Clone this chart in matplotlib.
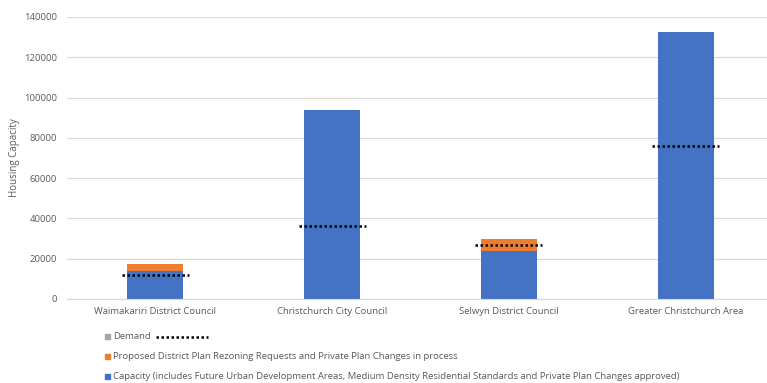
import numpy as np
import matplotlib.pyplot as plt
from matplotlib.patches import Rectangle
from matplotlib.lines import Line2D

# --- data ---
categories = ['Waimakariri District Council', 'Christchurch City Council',
              'Selwyn District Council', 'Greater Christchurch Area']
capacity = [14000, 94000, 24000, 132700]
proposed = [3200, 0, 6000, 0]
demand = [11800, 36300, 27000, 76100]

legend_labels = ['Demand',
                 'Proposed District Plan Rezoning Requests and Private Plan Changes in process',
                 'Capacity (includes Future Urban Development Areas, Medium Density Residential Standards and Private Plan Changes approved)']

BLUE = '#4472C4'
ORANGE = '#ED7D31'
GRAY = '#A5A5A5'
TXT = '#595959'

plt.rcParams['font.family'] = ['Open Sans', 'DejaVu Sans']

W, H = 767, 383
fig = plt.figure(figsize=(W / 100, H / 100), dpi=100)
# axes in pixel terms: left 67, right ~774, top 17, bottom 299
ax = fig.add_axes([67 / W, 1 - 299 / H, 707 / W, 282 / H])

x = np.arange(len(categories))
bw = 0.317
ax.bar(x, capacity, bw, color=BLUE, zorder=2)
ax.bar(x, proposed, bw, bottom=capacity, color=ORANGE, zorder=2)
for xi, d in zip(x, demand):
    ax.plot([xi - 0.19, xi + 0.19], [d, d], color='black', lw=1.8,
            linestyle=(0, (1, 1)), zorder=3)

ax.set_xlim(-0.5, 3.5)
ax.set_ylim(0, 140000)
ax.set_yticks(np.arange(0, 140001, 20000))
ax.yaxis.grid(True, color='#D9D9D9', lw=0.9, zorder=0)
ax.set_axisbelow(True)
for s in ['top', 'right', 'left']:
    ax.spines[s].set_visible(False)
ax.spines['bottom'].set_color('#D9D9D9')
ax.tick_params(axis='both', length=0, colors=TXT, labelsize=6.8)
ax.tick_params(axis='y', pad=7)
ax.tick_params(axis='x', pad=6)
ax.set_xticks(x)
ax.set_xticklabels(categories)
fig.text(15 / W, 1 - 158 / H, 'Housing Capacity', color=TXT, fontsize=7,
         rotation=90, ha='center', va='center')

# --- legend drawn by hand (three stacked rows) ---
rows_y = [336.5, 356.5, 376.5]
cols = [GRAY, ORANGE, BLUE]
for lab, c, yy in zip(legend_labels, cols, rows_y):
    fig.patches.append(Rectangle((105 / W, 1 - (yy + 2.5) / H), 5 / W, 5 / H,
                                 color=c, transform=fig.transFigure, figure=fig))
    fig.text(113 / W, 1 - yy / H, lab, color=TXT, fontsize=6.8,
             va='center', ha='left')
fig.add_artist(Line2D([156 / W, 208 / W], [1 - rows_y[0] / H] * 2, color='black',
                      lw=1.8, linestyle=(0, (1, 1)), transform=fig.transFigure))

fig.savefig('out.png', dpi=100)
